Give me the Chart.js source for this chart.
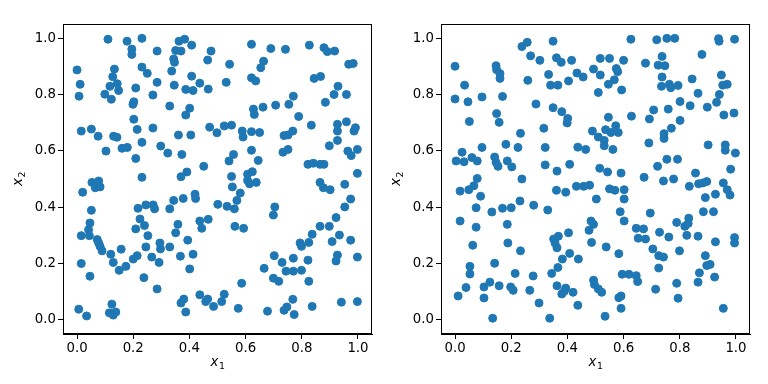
<!DOCTYPE html>
<html>
<head>
<meta charset="utf-8">
<script src="https://cdn.jsdelivr.net/npm/chart.js@4"></script>
<style>
  body { margin: 0; background: #fff; }
  #wrap { position: relative; width: 768px; height: 384px; }
  canvas { position: absolute; top: 0; }
</style>
</head>
<body>
<div id="wrap">
  <canvas id="left" width="384" height="384" style="left:0"></canvas>
  <canvas id="right" width="384" height="384" style="left:384px"></canvas>
</div>
<script>
// left panel samples (x1, x2)
const leftX = [
  0.110,0.178,0.231,0.195,0.195,0.285,0.363,0.383,0.408,0.351,
  0.370,0.477,0.465,0.344,0.347,0.000,0.133,0.127,0.231,0.250,
  0.337,0.408,0.011,0.143,0.117,0.148,0.209,0.285,0.346,0.387,
  0.413,0.437,0.467,0.007,0.099,0.122,0.270,0.202,0.199,0.330,
  0.401,0.387,0.202,0.015,0.051,0.075,0.130,0.142,0.214,0.270,
  0.361,0.405,0.472,0.498,0.103,0.160,0.179,0.231,0.298,0.323,
  0.373,0.209,0.451,0.391,0.370,0.231,
  0.621,0.690,0.742,0.827,0.879,0.891,0.917,0.543,0.664,0.654,
  0.967,0.983,0.531,0.621,0.636,0.844,0.867,0.929,0.915,0.959,
  0.770,0.754,0.884,0.707,0.662,0.628,0.631,0.789,0.834,0.524,
  0.550,0.588,0.591,0.621,0.650,0.737,0.751,0.768,0.927,0.927,
  0.959,0.991,0.986,0.927,0.898,0.621,0.557,0.541,0.645,0.733,
  0.751,0.964,0.976,0.998,0.822,0.841,0.865,0.879,0.998,0.550,
  0.607,0.624,
  0.053,0.077,0.065,0.082,0.020,0.420,0.422,0.501,0.217,0.245,
  0.271,0.276,0.344,0.378,0.330,0.051,0.224,0.240,0.209,0.046,
  0.041,0.015,0.044,0.359,0.351,0.437,0.467,0.444,0.252,0.072,
  0.077,0.082,0.089,0.120,0.157,0.129,0.295,0.297,0.245,0.330,
  0.394,0.368,0.413,0.214,0.200,0.266,0.292,0.015,0.174,0.150,
  0.401,0.046,0.238,0.285,0.437,0.465,0.458,0.486,0.380,0.370,
  0.387,0.006,0.034,0.124,0.115,0.129,0.138,
  0.553,0.607,0.614,0.638,0.581,0.569,0.534,0.560,0.562,0.593,
  0.704,0.699,0.865,0.877,0.901,0.953,0.974,0.953,0.922,0.865,
  0.898,0.934,0.908,0.974,0.837,0.825,0.794,0.799,0.927,0.922,
  0.998,0.702,0.770,0.730,0.822,0.666,0.744,0.770,0.799,0.699,
  0.718,0.825,0.586,0.524,0.515,0.574,0.678,0.737,0.747,0.768,
  0.773,0.837,0.941,0.998
]
const leftY = [
  0.996,0.989,0.999,0.961,0.942,0.954,0.989,0.996,0.975,0.956,
  0.954,0.954,0.922,0.926,0.914,0.887,0.890,0.863,0.897,0.875,
  0.883,0.865,0.836,0.838,0.829,0.814,0.823,0.843,0.833,0.818,
  0.814,0.840,0.819,0.794,0.801,0.783,0.798,0.774,0.765,0.759,
  0.751,0.727,0.712,0.670,0.677,0.652,0.652,0.648,0.676,0.681,
  0.656,0.656,0.684,0.664,0.599,0.609,0.612,0.630,0.617,0.592,
  0.587,0.573,0.545,0.525,0.508,0.506,
  0.978,0.963,0.960,0.975,0.966,0.952,0.954,0.907,0.918,0.895,
  0.907,0.910,0.843,0.859,0.848,0.857,0.864,0.829,0.800,0.800,
  0.794,0.765,0.772,0.762,0.755,0.748,0.729,0.722,0.691,0.688,
  0.691,0.670,0.649,0.668,0.665,0.654,0.656,0.670,0.694,0.670,
  0.703,0.682,0.670,0.637,0.618,0.602,0.587,0.564,0.566,0.595,
  0.605,0.599,0.583,0.605,0.552,0.556,0.552,0.552,0.520,0.509,
  0.517,0.526,
  0.488,0.493,0.469,0.472,0.453,0.446,0.431,0.410,0.396,0.408,
  0.408,0.394,0.424,0.431,0.394,0.389,0.358,0.335,0.323,0.344,
  0.320,0.299,0.299,0.339,0.309,0.351,0.357,0.325,0.299,0.285,
  0.273,0.261,0.245,0.233,0.251,0.204,0.273,0.252,0.259,0.259,
  0.283,0.226,0.233,0.228,0.216,0.223,0.204,0.200,0.190,0.176,
  0.181,0.155,0.150,0.110,0.089,0.074,0.065,0.048,0.074,0.060,
  0.028,0.038,0.014,0.056,0.025,0.017,0.028,
  0.472,0.495,0.483,0.488,0.450,0.424,0.403,0.394,0.332,0.325,
  0.401,0.372,0.488,0.469,0.462,0.481,0.429,0.401,0.363,0.332,
  0.332,0.301,0.278,0.283,0.304,0.275,0.273,0.261,0.230,0.209,
  0.223,0.228,0.219,0.204,0.212,0.183,0.173,0.173,0.176,0.148,
  0.137,0.137,0.130,0.091,0.065,0.041,0.031,0.034,0.046,0.073,
  0.019,0.048,0.063,0.065
]

// right panel samples (x1, x2)
const rightX = [
  0.238,0.257,0.349,0.269,0.302,0.361,0.378,0.415,0.000,0.146,
  0.148,0.160,0.160,0.259,0.333,0.340,0.366,0.404,0.434,0.456,
  0.493,0.034,0.000,0.046,0.096,0.169,0.288,0.349,0.380,0.401,
  0.399,0.148,0.157,0.051,0.316,0.233,0.489,0.181,0.096,0.224,
  0.321,0.437,0.465,0.025,0.004,0.032,0.060,0.079,0.141,0.146,
  0.153,0.186,0.202,0.321,0.363,0.408,0.079,0.238,
  0.626,0.718,0.754,0.782,0.938,0.940,0.995,0.879,0.517,0.550,
  0.600,0.517,0.574,0.579,0.567,0.546,0.593,0.510,0.678,0.723,
  0.747,0.737,0.737,0.735,0.763,0.768,0.794,0.844,0.865,0.948,
  0.953,0.969,0.941,0.931,0.898,0.801,0.837,0.759,0.707,0.692,
  0.801,0.628,0.546,0.957,0.993,0.572,0.536,0.555,0.581,0.510,
  0.531,0.531,0.562,0.770,0.744,0.744,0.690,0.901,0.962,0.962,
  0.998,0.754,0.792,0.721,0.515,0.543,0.591,0.673,0.856,0.981,
  0.067,0.049,0.018,0.091,0.361,0.394,0.432,0.458,0.479,0.503,
  0.231,0.280,0.075,0.169,0.200,0.131,0.330,0.018,0.075,0.186,
  0.484,0.493,0.477,0.404,0.368,0.351,0.356,0.363,0.063,0.188,
  0.486,0.233,0.408,0.439,0.382,0.141,0.053,0.053,0.366,0.344,
  0.214,0.278,0.493,0.496,0.039,0.011,0.103,0.124,0.103,0.157,
  0.198,0.207,0.266,0.363,0.380,0.394,0.389,0.420,0.299,0.437,
  0.134,0.337,
  0.742,0.778,0.834,0.867,0.882,0.896,0.955,0.969,0.979,0.927,
  0.891,0.550,0.569,0.602,0.602,0.588,0.602,0.695,0.884,0.920,
  0.645,0.671,0.652,0.678,0.728,0.761,0.789,0.818,0.832,0.830,
  0.825,0.865,0.927,0.995,0.995,0.538,0.583,0.704,0.725,0.742,
  0.799,0.891,0.896,0.908,0.725,0.870,0.924,0.865,0.595,0.619,
  0.645,0.650,0.789,0.714,0.510,0.522,0.583,0.591,0.591,0.534,
  0.794,0.955
]
const rightY = [
  0.970,0.985,0.989,0.937,0.921,0.930,0.914,0.921,0.900,0.902,
  0.888,0.874,0.857,0.850,0.871,0.833,0.833,0.848,0.876,0.862,
  0.890,0.833,0.784,0.774,0.791,0.793,0.766,0.753,0.739,0.715,
  0.699,0.732,0.701,0.704,0.680,0.662,0.670,0.623,0.612,0.612,
  0.612,0.613,0.605,0.595,0.564,0.561,0.576,0.564,0.578,0.559,
  0.545,0.564,0.543,0.550,0.528,0.552,0.502,0.500,
  0.996,0.994,0.999,0.999,0.998,0.989,0.996,0.942,0.928,0.928,
  0.921,0.869,0.892,0.881,0.852,0.836,0.816,0.807,0.911,0.904,
  0.902,0.935,0.862,0.829,0.836,0.824,0.832,0.855,0.804,0.869,
  0.833,0.836,0.800,0.772,0.755,0.775,0.760,0.748,0.745,0.713,
  0.708,0.723,0.719,0.727,0.734,0.689,0.675,0.665,0.665,0.649,
  0.637,0.618,0.605,0.680,0.661,0.644,0.628,0.621,0.621,0.602,
  0.592,0.570,0.570,0.545,0.538,0.525,0.521,0.506,0.521,0.535,
  0.476,0.462,0.457,0.439,0.460,0.453,0.474,0.474,0.478,0.429,
  0.422,0.407,0.398,0.396,0.398,0.383,0.390,0.351,0.329,0.339,
  0.351,0.339,0.318,0.309,0.297,0.287,0.273,0.256,0.265,0.273,
  0.275,0.245,0.236,0.216,0.216,0.201,0.190,0.163,0.186,0.165,
  0.165,0.156,0.141,0.126,0.115,0.085,0.117,0.134,0.078,0.121,
  0.117,0.105,0.105,0.121,0.092,0.113,0.102,0.098,0.060,0.052,
  0.006,0.006,
  0.493,0.500,0.474,0.483,0.486,0.491,0.486,0.462,0.443,0.446,
  0.434,0.465,0.460,0.462,0.429,0.384,0.351,0.379,0.384,0.384,
  0.325,0.323,0.290,0.287,0.311,0.294,0.346,0.332,0.361,0.342,
  0.300,0.297,0.277,0.292,0.273,0.259,0.235,0.252,0.228,0.223,
  0.245,0.228,0.193,0.197,0.184,0.167,0.152,0.134,0.162,0.162,
  0.157,0.136,0.130,0.109,0.110,0.098,0.079,0.085,0.041,0.013,
  0.077,0.041
]

const tickVals = [0.0, 0.2, 0.4, 0.6, 0.8, 1.0]
const xLabel = ['x', '1']   // x_1
const yLabel = ['x', '2']   // x_2
const blue = '#1f77b4'

Chart.defaults.font.family = 'DejaVu Sans'
Chart.defaults.color = '#000'

// draws italic x with a smaller upright subscript, like mathtext
function subLabel(ctx, cx, cy, rot, parts) {
  ctx.save()
  ctx.translate(cx, cy)
  ctx.rotate(rot)
  ctx.fillStyle = '#000'
  ctx.textBaseline = 'alphabetic'
  ctx.textAlign = 'left'
  const mainFont = 'italic 13.3px "DejaVu Sans"'
  const subFont = '9.4px "DejaVu Sans"'
  ctx.font = mainFont
  const w1 = ctx.measureText(parts[0]).width
  ctx.font = subFont
  const w2 = ctx.measureText(parts[1]).width
  const start = -(w1 + w2) / 2
  ctx.font = mainFont
  ctx.fillText(parts[0], start, 0)
  ctx.font = subFont
  ctx.fillText(parts[1], start + w1 + 0.5, 3)
  ctx.restore()
}

// matplotlib style box round the plot area plus axis labels
const frame = {
  id: 'frame',
  afterDraw(chart) {
    const { ctx, chartArea: a } = chart
    ctx.save()
    ctx.strokeStyle = '#000'
    ctx.lineWidth = 1
    ctx.strokeRect(Math.round(a.left) + 0.5, Math.round(a.top) + 0.5,
      Math.round(a.right - a.left) - 1, Math.round(a.bottom - a.top) - 1)
    ctx.restore()
    subLabel(ctx, (a.left + a.right) / 2, a.bottom + 31.5, 0, xLabel)
    subLabel(ctx, a.left - 41, (a.top + a.bottom) / 2, -Math.PI / 2, yLabel)
  }
}

function axis(size) {
  return {
    min: -0.05,
    max: 1.05,
    afterBuildTicks: s => { s.ticks = tickVals.map(v => ({ value: v })) },
    afterFit: s => {
      if (s.isHorizontal()) s.height = size
      else s.width = size
    },
    grid: { drawOnChartArea: false, drawTicks: true, tickLength: 5, tickColor: '#000' },
    border: { display: true, color: '#000', width: 1 },
    ticks: {
      color: '#000',
      font: { size: 13.3 },
      padding: 2,
      maxRotation: 0,
      autoSkip: false,
      callback: v => v.toFixed(1)
    }
  }
}

function makeChart(id, xs, ys, yWidth, padRight) {
  const pts = xs.map((x, i) => ({ x: x, y: ys[i] }))
  return new Chart(id, {
    type: 'scatter',
    data: {
      datasets: [{
        data: pts,
        backgroundColor: blue,
        borderColor: blue,
        borderWidth: 1,
        pointRadius: 4,
        pointHoverRadius: 4
      }]
    },
    options: {
      responsive: false,
      animation: false,
      layout: { padding: { left: 0, right: padRight, top: 24, bottom: 0 } },
      plugins: { legend: { display: false }, tooltip: { enabled: false } },
      scales: {
        x: axis(50),
        y: axis(yWidth)
      }
    },
    plugins: [frame]
  })
}

makeChart('left', leftX, leftY, 63, 12)
makeChart('right', rightX, rightY, 57, 18)
</script>
</body>
</html>
